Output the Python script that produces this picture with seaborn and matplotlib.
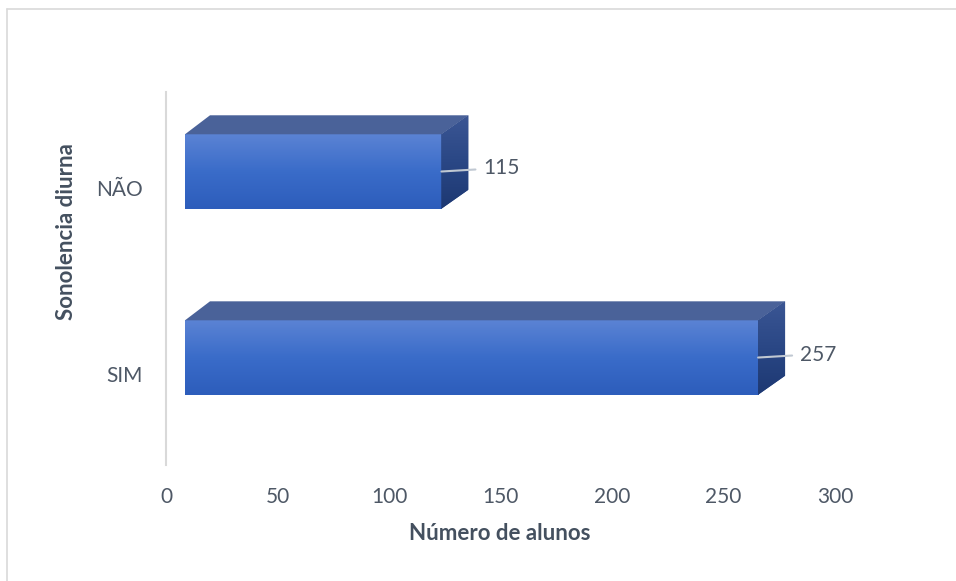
import numpy as np
import pandas as pd
import matplotlib
matplotlib.use("Agg")
import matplotlib.pyplot as plt
import seaborn as sns
from matplotlib.patches import Polygon
from matplotlib.lines import Line2D
from matplotlib.transforms import IdentityTransform, ScaledTranslation
from matplotlib.colors import LinearSegmentedColormap

categories = ["NÃO", "SIM"]
values = [115, 257]
x_ticks = [0, 50, 100, 150, 200, 250, 300]
x_label = "Número de alunos"
y_label = "Sonolencia diurna"

sns.set_theme(style="white")
plt.rcParams["font.family"] = ["Lato", "DejaVu Sans"]

W, H = 956, 581
DPI = 100
fig = plt.figure(figsize=(W / DPI, H / DPI), dpi=DPI)
fig.patch.set_facecolor("white")

# axes in pixel geometry
ax_l, ax_r, ax_t, ax_b = 166, 835, 92, 465
ax = fig.add_axes([ax_l / W, (H - ax_b) / H, (ax_r - ax_l) / W, (ax_b - ax_t) / H])
ax.set_facecolor("white")

df = pd.DataFrame({"cat": categories, "val": values})
sns.barplot(data=df, x="val", y="cat", orient="h", width=0.4,
            color="#4472c4", ax=ax, zorder=3)

ylim = (1.489, -0.516)
ax.set_xlim(0, 300)
ax.set_ylim(*ylim)
ax.set_xticks(x_ticks)
ax.set_xticklabels([str(t) for t in x_ticks])

text_col = "#4e5866"
ax.tick_params(axis="x", length=0, pad=16, labelsize=15, labelcolor=text_col)
ax.tick_params(axis="y", length=0, pad=17, labelsize=15, labelcolor=text_col)
for s in ["top", "right", "bottom"]:
    ax.spines[s].set_visible(False)
ax.spines["left"].set_color("#d9d9d9")
ax.spines["left"].set_linewidth(1.5)
ax.grid(False)

ax.set_xlabel(x_label, fontsize=16, fontweight="bold", color="#44505f")
ax.set_ylabel(y_label, fontsize=16, fontweight="bold", color="#44505f")
ax.xaxis.set_label_coords((500 - ax_l) / (ax_r - ax_l), -(533 - ax_b) / (ax_b - ax_t))
ax.xaxis.label.set_va("center")
ax.yaxis.set_label_coords(-(ax_l - 67) / (ax_r - ax_l), (ax_b - 232) / (ax_b - ax_t))
ax.yaxis.label.set_va("center")

# 3D look: shift front face, add top and side faces
dx_off, dy_off = 19, 16.5     # front face offset (px)
ddx, ddy = 27, 19             # depth (px)
front_cmap = LinearSegmentedColormap.from_list("f", ["#5b83d4", "#3a6cc9", "#2d5dbb"])
side_cmap = LinearSegmentedColormap.from_list("s", ["#3b5694", "#2a4785", "#1d3872"])
grad = np.linspace(0, 1, 256).reshape(-1, 1)
ident = IdentityTransform()
off = ax.transData + ScaledTranslation(dx_off / DPI, dy_off / DPI, fig.dpi_scale_trans)

for p, v in zip(ax.patches, values):
    x0, y0, w, h = p.get_x(), p.get_y(), p.get_width(), p.get_height()
    (ax0, ay0) = ax.transData.transform((x0, y0))
    (ax1, ay1) = ax.transData.transform((x0 + w, y0 + h))
    L, R = min(ax0, ax1) + dx_off, max(ax0, ax1) + dx_off
    B, T = min(ay0, ay1) + dy_off, max(ay0, ay1) + dy_off
    p.set_transform(off)
    p.set_facecolor("#3a6cc9")
    p.set_edgecolor("none")
    # front gradient
    ax.imshow(grad, cmap=front_cmap, extent=[L, R, B, T], origin="upper",
              transform=ident, aspect="auto", zorder=4, interpolation="bilinear")
    # top face
    top = Polygon([(L, T), (R, T), (R + ddx, T + ddy), (L + ddx - 2, T + ddy)],
                  closed=True, facecolor="#4a6299", edgecolor="none",
                  transform=ident, zorder=4)
    ax.add_artist(top)
    # side face
    side = Polygon([(R, T), (R + ddx, T + ddy), (R + ddx, B + ddy), (R, B)],
                   closed=True, facecolor="#2a4785", edgecolor="none",
                   transform=ident, zorder=4)
    ax.add_artist(side)
    im = ax.imshow(grad, cmap=side_cmap, extent=[R, R + ddx, B, T + ddy], origin="upper",
                   transform=ident, aspect="auto", zorder=4.5, interpolation="bilinear")
    im.set_clip_path(side)
    # leader line and label
    ym = (B + T) / 2
    ax.add_artist(Line2D([R, R + 34], [ym, ym + 2], color="#c0c8d2", lw=1.5,
                         transform=ident, zorder=6))
    ax.text(R + 42, ym + 3, f"{v}", transform=ident, fontsize=15, color=text_col,
            va="center", ha="left", zorder=6, clip_on=False)

ax.set_xlim(0, 300)
ax.set_ylim(*ylim)

# light border of chart area (left and top visible)
fig.add_artist(Line2D([7 / W, 7 / W], [0, 1 - 9 / H], color="#d9d9d9", lw=1.2,
                      transform=fig.transFigure))
fig.add_artist(Line2D([7 / W, 1], [1 - 9 / H, 1 - 9 / H], color="#d9d9d9", lw=1.2,
                      transform=fig.transFigure))

fig.savefig("out.png", dpi=DPI, facecolor="white")
